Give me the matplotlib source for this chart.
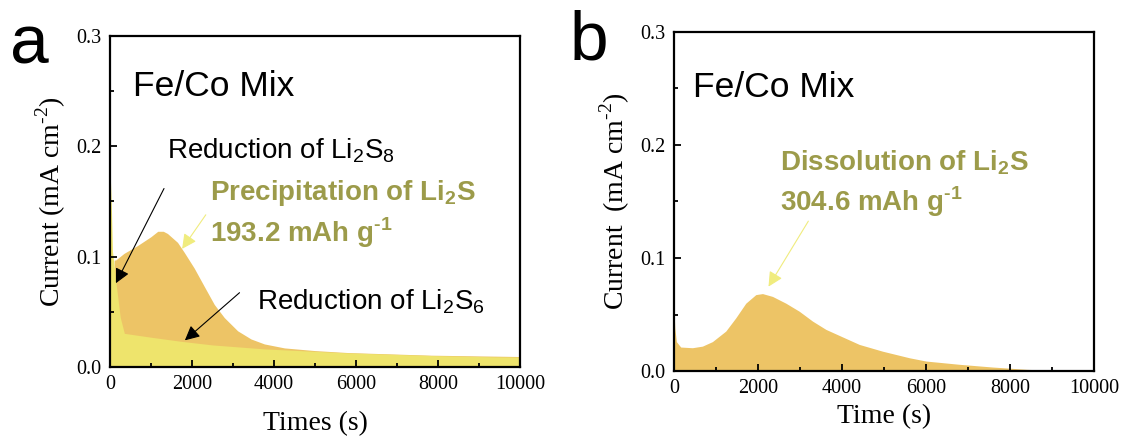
import numpy as np
import matplotlib
matplotlib.use("Agg")
import matplotlib.pyplot as plt
from matplotlib.ticker import MultipleLocator

plt.rcParams['font.family'] = ['Liberation Serif', 'DejaVu Serif']
plt.rcParams['mathtext.fontset'] = 'custom'
plt.rcParams['mathtext.rm'] = 'Liberation Serif'
plt.rcParams['mathtext.sf'] = 'Liberation Sans'
plt.rcParams['mathtext.bf'] = 'Liberation Sans:bold'

# panel a: Li2S8 / Li2S6 reduction (yellow) and Li2S precipitation (orange)
t_yellow = [0, 30, 60, 150, 250, 350, 1000, 1730, 2500, 3770, 5000, 5800, 7840, 9390, 10000]
i_yellow = [0.180, 0.150, 0.105, 0.075, 0.045, 0.0305, 0.027, 0.0233, 0.020, 0.0164, 0.0142, 0.0128, 0.0104, 0.0092, 0.009]

t_orange = [100, 140, 342, 668, 994, 1165, 1300, 1402, 1646, 1809, 2054, 2298, 2543, 2787, 3113, 3439, 3765, 4254, 4988, 5800, 7840, 10000]
i_orange = [0.097, 0.097, 0.103, 0.110, 0.118, 0.123, 0.123, 0.121, 0.113, 0.104, 0.0896, 0.0731, 0.0567, 0.0448, 0.0328, 0.0254, 0.0209, 0.0173, 0.0149, 0.0131, 0.0107, 0.0095]

# panel b: Li2S dissolution
t_diss = [0, 20, 56, 160, 437, 676, 914, 1232, 1470, 1709, 1948, 2107, 2345, 2663, 2981, 3300, 3617, 3975, 4412, 4968, 5604, 6002, 6800, 7591, 8386, 8983, 10000]
i_diss = [0.053, 0.038, 0.026, 0.0212, 0.0206, 0.022, 0.026, 0.0353, 0.047, 0.060, 0.0676, 0.0685, 0.066, 0.060, 0.0529, 0.0441, 0.0368, 0.0308, 0.0235, 0.0175, 0.0117, 0.0088, 0.0059, 0.0035, 0.0015, 0.0006, 0.0]

c_orange = '#EDC466'
c_yellow = '#EEE46C'
c_olive = '#9C9B4A'
c_arrow_y = '#F0EC7E'
hy = '\u2010'

fig = plt.figure(figsize=(11.26, 4.37), dpi=100)
ax1 = fig.add_axes([110/1126, 70/437, 410/1126, 331/437])
ax2 = fig.add_axes([674/1126, 66/437, 420/1126, 339/437])

# orange first, yellow drawn over it
ax1.fill_between(t_orange, 0, i_orange, color=c_orange, lw=0)
ax1.fill_between(t_yellow, 0, i_yellow, color=c_yellow, lw=0)

ax2.fill_between(t_diss, 0, i_diss, color=c_orange, lw=0)

for ax in (ax1, ax2):
    ax.set_xlim(0, 10000)
    ax.set_ylim(0, 0.3)
    ax.xaxis.set_major_locator(MultipleLocator(2000))
    ax.xaxis.set_minor_locator(MultipleLocator(1000))
    ax.yaxis.set_major_locator(MultipleLocator(0.1))
    ax.yaxis.set_minor_locator(MultipleLocator(0.05))
    ax.tick_params(which='both', direction='in', top=False, right=False,
                   labelsize=14.5, width=1.3, pad=6)
    ax.tick_params(which='major', length=5)
    ax.tick_params(which='minor', length=3)
    for s in ax.spines.values():
        s.set_linewidth(1.6)

ax1.text(0.055, 0.820, 'Fe/Co Mix', transform=ax1.transAxes, fontsize=25.5,
         family='Liberation Sans', va='baseline')
ax2.text(0.045, 0.807, 'Fe/Co Mix', transform=ax2.transAxes, fontsize=25.5,
         family='Liberation Sans', va='baseline')

ax1.set_xlabel('Times (s)', fontsize=20, labelpad=12)
ax1.set_ylabel(r'Current (mA cm$^{\mathrm{' + hy + r'2}}$)', fontsize=20, labelpad=6)
ax2.set_xlabel('Time (s)', fontsize=20, labelpad=4)
ax2.set_ylabel(r'Current  (mA cm$^{\mathrm{' + hy + r'2}}$)', fontsize=20, labelpad=6)

fig.text(10/1126, 1 - 45/437, 'a', fontsize=50, family='Liberation Sans', va='center')
fig.text(570/1126, 1 - 42/437, 'b', fontsize=50, family='Liberation Sans', va='center')

# panel a annotations
ax1.text(0.139, 0.630, r'Reduction of Li$_\mathsf{2}$S$_\mathsf{8}$', transform=ax1.transAxes,
         fontsize=20, family='Liberation Sans', va='baseline')
ax1.text(0.244, 0.506, r'Precipitation of Li$_\mathbf{2}$S', transform=ax1.transAxes,
         fontsize=20, family='Liberation Sans', weight='bold', color=c_olive, va='baseline')
ax1.text(0.244, 0.379, r'193.2 mAh g$^\mathbf{' + hy + '1}$', transform=ax1.transAxes,
         fontsize=20, family='Liberation Sans', weight='bold', color=c_olive, va='baseline')
ax1.text(0.359, 0.174, r'Reduction of Li$_\mathsf{2}$S$_\mathsf{6}$', transform=ax1.transAxes,
         fontsize=20, family='Liberation Sans', va='baseline')

ax1.annotate('', xy=(113, 0.0737), xytext=(1348, 0.164),
             arrowprops=dict(arrowstyle='-|>', color='black', lw=0.8, mutation_scale=22))
ax1.annotate('', xy=(1775, 0.0225), xytext=(3210, 0.069),
             arrowprops=dict(arrowstyle='-|>', color='black', lw=0.8, mutation_scale=22))
ax1.annotate('', xy=(1720, 0.105), xytext=(2375, 0.14),
             arrowprops=dict(arrowstyle='-|>', color=c_arrow_y, lw=0.8, mutation_scale=22))

# panel b annotations
ax2.text(0.252, 0.591, r'Dissolution of Li$_\mathbf{2}$S', transform=ax2.transAxes,
         fontsize=20, family='Liberation Sans', weight='bold', color=c_olive, va='baseline')
ax2.text(0.252, 0.472, r'304.6 mAh g$^\mathbf{' + hy + '1}$', transform=ax2.transAxes,
         fontsize=20, family='Liberation Sans', weight='bold', color=c_olive, va='baseline')
ax2.annotate('', xy=(2216, 0.0726), xytext=(3233, 0.1347),
             arrowprops=dict(arrowstyle='-|>', color=c_arrow_y, lw=0.8, mutation_scale=22))

fig.savefig('out.png', dpi=100)
